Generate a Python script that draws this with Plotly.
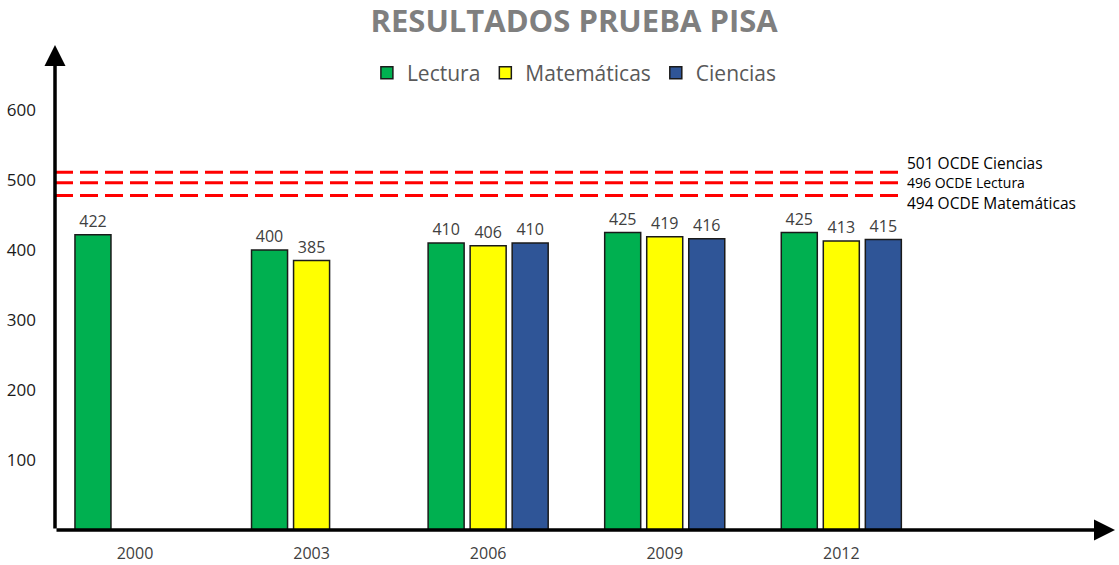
import plotly.graph_objects as go

# ---- data ----
years = ["2000", "2003", "2006", "2009", "2012"]
lectura = [422, 400, 410, 425, 425]
matematicas = [None, 385, 406, 419, 413]
ciencias = [None, None, 410, 416, 415]
series_names = ["Lectura", "Matemáticas", "Ciencias"]
ocde_values = [501, 496, 494]
ocde_labels = ["501 OCDE Ciencias", "496 OCDE Lectura", "494 OCDE Matemáticas"]
y_ticks = [100, 200, 300, 400, 500, 600]

# ---- styles ----
bar_colors = ["#00B050", "#FFFF00", "#2F5597"]
line_offsets = [10, 0, -16]          # visual separation of the reference lines
label_offsets = [24, 0, -27]
label_sizes = [15.5, 14, 15.5]
X_MIN, X_MAX = -0.453, 5.55
Y_MAX = 693
TEXT = "Open Sans"

fig = go.Figure()
for name, vals, col in zip(series_names, [lectura, matematicas, ciencias], bar_colors):
    fig.add_trace(go.Bar(
        x=years, y=vals, name=name,
        marker=dict(color=col, line=dict(color="#1a1a1a", width=1.5)),
        texttemplate="%{y}", textposition="outside",
        textfont=dict(family=TEXT, size=16, color="#404040"),
        cliponaxis=False,
    ))

shapes = []
annotations = []
for v, off, lab, lo, fs in zip(ocde_values, line_offsets, ocde_labels, label_offsets, label_sizes):
    shapes.append(dict(type="line", xref="x", yref="y", x0=X_MIN, x1=4.33,
                       y0=v + off, y1=v + off,
                       line=dict(color="#FF0000", width=3, dash="18px,7px"), layer="below"))
    annotations.append(dict(x=4.36, y=v + lo, xref="x", yref="y", text=lab,
                            showarrow=False, xanchor="left", yanchor="middle",
                            font=dict(family=TEXT, size=fs, color="#000000")))

# arrow axes
annotations.append(dict(x=X_MIN, y=Y_MAX, ax=X_MIN, ay=0, xref="x", yref="y",
                        axref="x", ayref="y", text="", showarrow=True,
                        arrowhead=2, arrowsize=1.2, arrowwidth=3.5, arrowcolor="#000000"))
annotations.append(dict(x=X_MAX, y=0, ax=X_MIN, ay=0, xref="x", yref="y",
                        axref="x", ayref="y", text="", showarrow=True,
                        arrowhead=2, arrowsize=1.2, arrowwidth=3.5, arrowcolor="#000000"))

fig.update_layout(
    width=1119, height=565,
    margin=dict(l=55, r=4, t=45, b=35),
    paper_bgcolor="white", plot_bgcolor="white",
    barmode="group", bargap=0.286, bargroupgap=0.143,
    title=dict(text="<b>RESULTADOS PRUEBA PISA</b>", x=0.513, xanchor="center",
               y=0.962, yanchor="middle",
               font=dict(family=TEXT, size=31, color="#7F7F7F")),
    legend=dict(orientation="h", x=0.49, xanchor="center", y=0.942, yanchor="middle",
                font=dict(family=TEXT, size=21, color="#595959"),
                itemwidth=30, bgcolor="rgba(0,0,0,0)"),
    shapes=shapes, annotations=annotations,
    xaxis=dict(type="category", range=[X_MIN, X_MAX], showgrid=False, showline=False,
               zeroline=False, ticks="", ticklabelstandoff=12, automargin=False,
               tickfont=dict(family=TEXT, size=16, color="#404040")),
    yaxis=dict(range=[0, Y_MAX], tickvals=y_ticks, showgrid=False, showline=False,
               zeroline=False, ticks="", ticklabelstandoff=18, automargin=False,
               tickfont=dict(family=TEXT, size=17, color="#1a1a1a")),
)

fig.write_html("out.html", config={"displayModeBar": False},
               post_script="document.body.style.margin='0';document.body.style.overflow='hidden';")
